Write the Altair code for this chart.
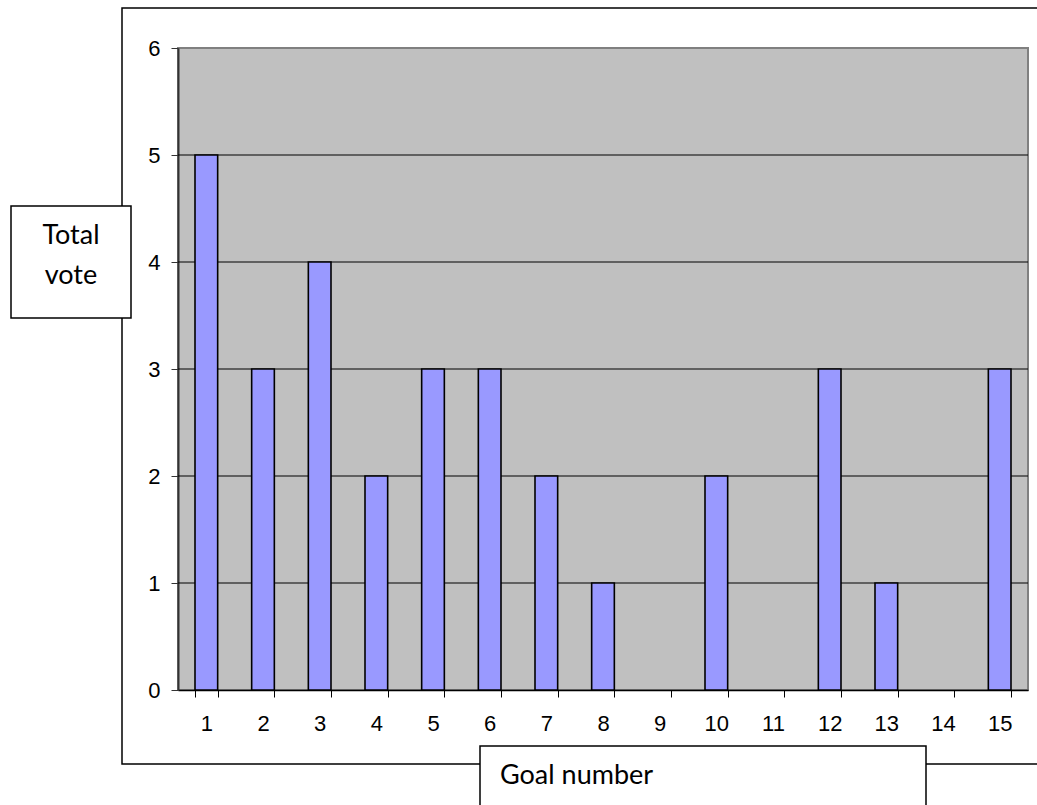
import altair as alt
import pandas as pd

# Votes per goal
goals = [str(i) for i in range(1, 16)]
votes = [5, 3, 4, 2, 3, 3, 2, 1, 0, 2, 0, 3, 1, 0, 3]
y_ticks = [0, 1, 2, 3, 4, 5, 6]
grid_levels = [1, 2, 3, 4, 5]

W, H = 850, 642

df = pd.DataFrame({"goal": goals, "votes": votes})
grid_df = pd.DataFrame({"level": grid_levels})
one = alt.Data(values=[{}])

x_enc = alt.X(
    "goal:N",
    sort=goals,
    scale=alt.Scale(domain=goals, paddingInner=0.6, paddingOuter=0.3),
    axis=alt.Axis(
        title=None, labelAngle=0, tickBand="extent", tickSize=7,
        tickColor="black", domainColor="black", domainWidth=1.5,
        labelFont="Liberation Sans", labelFontSize=22, labelColor="black",
        labelPadding=16, grid=False,
    ),
)
y_scale = alt.Scale(domain=[0, 6], nice=False)
y_axis = alt.Axis(
    values=y_ticks, title=None, grid=False, tickSize=7,
    tickColor="#333333", domainColor="#333333", domainWidth=2,
    labelFont="Liberation Sans", labelFontSize=22, labelColor="black",
    labelPadding=11,
)

# Outer chart frame
frame = alt.Chart(one).mark_rect(fill=None, stroke="black", strokeWidth=1.5).encode(
    x=alt.value(-56), x2=alt.value(W + 20), y=alt.value(-40), y2=alt.value(716)
)

grid = alt.Chart(grid_df).mark_rule(color="black", strokeWidth=1).encode(
    y=alt.Y("level:Q", scale=y_scale, axis=y_axis)
)

# Goals with no votes get no visible bar
bars = alt.Chart(df).transform_filter(
    alt.datum.votes > 0
).mark_bar(
    color="#9999FF", stroke="black", strokeWidth=1.6
).encode(
    x=x_enc,
    y=alt.Y("votes:Q", scale=y_scale, axis=y_axis),
)

# Axis title boxes
ybox = alt.Chart(one).mark_rect(fill="white", stroke="black", strokeWidth=1.5).encode(
    x=alt.value(-167), x2=alt.value(-47), y=alt.value(158), y2=alt.value(270)
)
xbox = alt.Chart(one).mark_rect(fill="white", stroke="black", strokeWidth=1.5).encode(
    x=alt.value(302), x2=alt.value(748), y=alt.value(698), y2=alt.value(780)
)

title_font = dict(font="Lato", fontSize=27, color="black", baseline="alphabetic")
ytitle1 = alt.Chart(one).mark_text(align="center", **title_font).encode(
    x=alt.value(-107), y=alt.value(196), text=alt.value("Total")
)
ytitle2 = alt.Chart(one).mark_text(align="center", **title_font).encode(
    x=alt.value(-107), y=alt.value(236), text=alt.value("vote")
)
xtitle = alt.Chart(one).mark_text(align="left", **title_font).encode(
    x=alt.value(322), y=alt.value(736), text=alt.value("Goal number")
)

chart = alt.layer(
    frame, grid, bars, ybox, xbox, ytitle1, ytitle2, xtitle
).properties(
    width=W, height=H,
    autosize=alt.AutoSizeParams(type="none"),
    padding={"left": 178, "top": 48, "right": 9, "bottom": 115},
    background="white",
).configure_view(
    fill="#C0C0C0", stroke="#808080", strokeWidth=2
)

chart.save("out.html", embed_options={"renderer": "svg", "actions": False})
